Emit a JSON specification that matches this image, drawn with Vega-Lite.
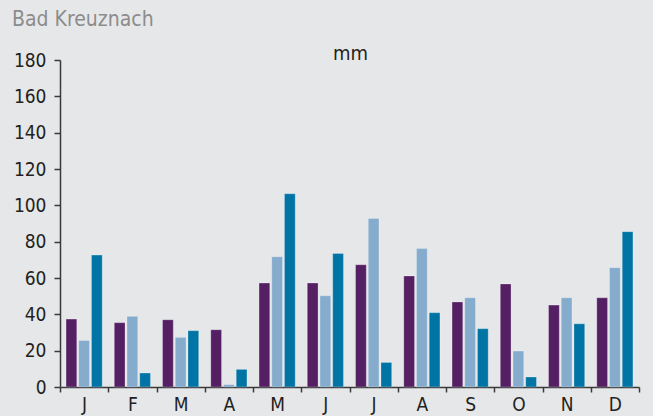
{
  "$schema": "https://vega.github.io/schema/vega-lite/v6.json",
  "autosize": "none",
  "width": 579,
  "height": 327,
  "padding": {"left": 60, "top": 60, "right": 14, "bottom": 29},
  "background": "#e6e7e9",
  "title": {
    "text": "Bad Kreuznach",
    "anchor": "start",
    "frame": "group",
    "dx": -48,
    "offset": 13,
    "font": "DejaVu Sans Condensed",
    "fontSize": 21,
    "fontWeight": "normal",
    "color": "#8c8c8c"
  },
  "config": {
    "view": {"stroke": null},
    "axis": {"labelFont": "DejaVu Sans Condensed", "titleFont": "DejaVu Sans Condensed", "labelColor": "#231f20", "domainColor": "#3a3a3a", "tickColor": "#3a3a3a", "grid": false}
  },
  "data": {
    "values": [
      {"month": "Jan", "series": "s1", "mm": 37.4}, {"month": "Jan", "series": "s2", "mm": 25.6}, {"month": "Jan", "series": "s3", "mm": 72.6},
      {"month": "Feb", "series": "s1", "mm": 35.4}, {"month": "Feb", "series": "s2", "mm": 38.9}, {"month": "Feb", "series": "s3", "mm": 7.7},
      {"month": "Mar", "series": "s1", "mm": 37.0}, {"month": "Mar", "series": "s2", "mm": 27.3}, {"month": "Mar", "series": "s3", "mm": 31.0},
      {"month": "Apr", "series": "s1", "mm": 31.5}, {"month": "Apr", "series": "s2", "mm": 1.3}, {"month": "Apr", "series": "s3", "mm": 9.7},
      {"month": "May", "series": "s1", "mm": 57.2}, {"month": "May", "series": "s2", "mm": 71.7}, {"month": "May", "series": "s3", "mm": 106.4},
      {"month": "Jun", "series": "s1", "mm": 57.2}, {"month": "Jun", "series": "s2", "mm": 50.2}, {"month": "Jun", "series": "s3", "mm": 73.5},
      {"month": "Jul", "series": "s1", "mm": 67.3}, {"month": "Jul", "series": "s2", "mm": 92.8}, {"month": "Jul", "series": "s3", "mm": 13.5},
      {"month": "Aug", "series": "s1", "mm": 61.1}, {"month": "Aug", "series": "s2", "mm": 76.3}, {"month": "Aug", "series": "s3", "mm": 40.9},
      {"month": "Sep", "series": "s1", "mm": 46.8}, {"month": "Sep", "series": "s2", "mm": 49.1}, {"month": "Sep", "series": "s3", "mm": 32.1},
      {"month": "Oct", "series": "s1", "mm": 56.7}, {"month": "Oct", "series": "s2", "mm": 19.8}, {"month": "Oct", "series": "s3", "mm": 5.5},
      {"month": "Nov", "series": "s1", "mm": 45.1}, {"month": "Nov", "series": "s2", "mm": 49.1}, {"month": "Nov", "series": "s3", "mm": 34.8},
      {"month": "Dec", "series": "s1", "mm": 49.1}, {"month": "Dec", "series": "s2", "mm": 65.7}, {"month": "Dec", "series": "s3", "mm": 85.5}
    ]
  },
  "mark": {"type": "bar", "stroke": "#ffffff", "strokeOpacity": 0.25, "strokeWidth": 1},
  "encoding": {
    "x": {
      "field": "month",
      "type": "nominal",
      "sort": null,
      "scale": {"paddingInner": 0, "paddingOuter": 0},
      "axis": {
        "title": null,
        "labelAngle": 0,
        "labelExpr": "substring(datum.label, 0, 1)",
        "labelFontSize": 19,
        "labelPadding": 3,
        "tickBand": "extent",
        "tickSize": 5,
        "domainWidth": 1.5,
        "tickWidth": 1.5
      }
    },
    "xOffset": {
      "field": "series",
      "type": "nominal",
      "scale": {"paddingInner": 0.157, "paddingOuter": 0.476}
    },
    "y": {
      "field": "mm",
      "type": "quantitative",
      "scale": {"domain": [0, 180], "nice": false},
      "axis": {
        "values": [0, 20, 40, 60, 80, 100, 120, 140, 160, 180],
        "title": "mm",
        "titleAngle": 0,
        "titleX": 290,
        "titleY": -1,
        "titleAlign": "center",
        "titleBaseline": "alphabetic",
        "titleFontSize": 20,
        "titleFontWeight": "normal",
        "titleColor": "#231f20",
        "labelFontSize": 19,
        "labelPadding": 8,
        "tickSize": 6,
        "domainWidth": 1.5,
        "tickWidth": 1.5
      }
    },
    "color": {
      "field": "series",
      "type": "nominal",
      "scale": {"domain": ["s1", "s2", "s3"], "range": ["#541f63", "#85abcd", "#0075a5"]},
      "legend": null
    }
  }
}
